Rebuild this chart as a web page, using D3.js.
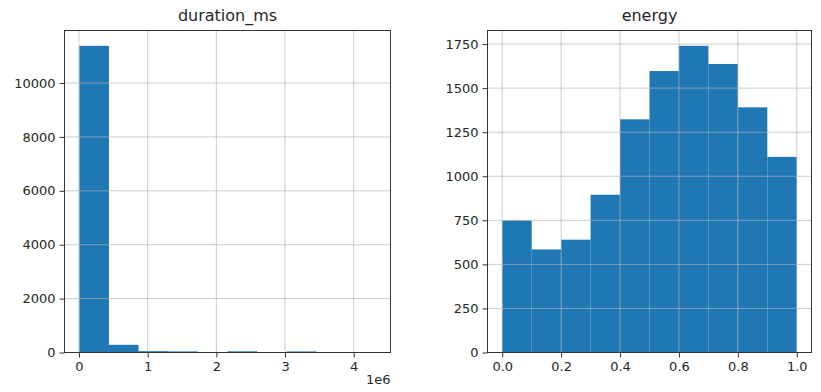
<!DOCTYPE html>
<html><head><meta charset="utf-8">
<script src="https://cdn.jsdelivr.net/npm/d3@7"></script>
<style>body{margin:0;background:#fff}svg{display:block}text{font-family:"DejaVu Sans",sans-serif;fill:#262626}</style>
</head><body>
<script>
// duration_ms histogram (10 bins, x in ms)
const durationEdges = [4937, 436430, 867923, 1299416, 1730909, 2162402, 2593895, 3025388, 3456881, 3888374, 4319867];
const durationCounts = [11380, 285, 50, 40, 2, 45, 3, 40, 0, 2];
const durationXTicks = [0, 1e6, 2e6, 3e6, 4e6];
const durationXTickLabels = ["0", "1", "2", "3", "4"];
const durationYTicks = [0, 2000, 4000, 6000, 8000, 10000];

// energy histogram
const energyEdges = [0.0, 0.1, 0.2, 0.3, 0.4, 0.5, 0.6, 0.7, 0.8, 0.9, 1.0];
const energyCounts = [749, 585, 640, 895, 1323, 1597, 1740, 1637, 1391, 1110];
const energyXTicks = [0, 0.2, 0.4, 0.6, 0.8, 1.0];
const energyXTickLabels = ["0.0", "0.2", "0.4", "0.6", "0.8", "1.0"];
const energyYTicks = [0, 250, 500, 750, 1000, 1250, 1500, 1750];

const W = 821, H = 392;
const svg = d3.select("body").append("svg").attr("width", W).attr("height", H);

function panel(cfg) {
  const {left, right, top, bottom, edges, counts, xTicks, xLabels, yTicks, title, offsetText} = cfg;
  const g = svg.append("g");
  const xmin = edges[0], xmax = edges[edges.length - 1], r = xmax - xmin;
  const x = d3.scaleLinear().domain([xmin - 0.05 * r, xmax + 0.05 * r]).range([left, right]);
  const ymax = d3.max(counts);
  const y = d3.scaleLinear().domain([0, ymax * 1.05]).range([bottom, top]);
  const bins = counts.map((c, i) => ({x0: edges[i], x1: edges[i + 1], c}));
  g.selectAll("rect.bar").data(bins).enter().append("rect")
    .attr("x", d => x(d.x0)).attr("width", d => x(d.x1) - x(d.x0))
    .attr("y", d => y(d.c)).attr("height", d => y(0) - y(d.c))
    .attr("fill", "#1f77b4");
  // grid
  const grid = g.append("g").attr("stroke", "#b0b0b0").attr("stroke-opacity", 0.65).attr("stroke-width", 1);
  xTicks.forEach(t => grid.append("line").attr("x1", x(t)).attr("x2", x(t)).attr("y1", top).attr("y2", bottom));
  yTicks.forEach(t => grid.append("line").attr("x1", left).attr("x2", right).attr("y1", y(t)).attr("y2", y(t)));
  // axes
  const xa = d3.axisBottom(x).tickValues(xTicks).tickFormat((d, i) => xLabels[i]).tickSize(5).tickPadding(4);
  const ya = d3.axisLeft(y).tickValues(yTicks).tickFormat(d3.format("d")).tickSize(5).tickPadding(4);
  const gx = g.append("g").attr("transform", `translate(0,${bottom})`).call(xa);
  const gy = g.append("g").attr("transform", `translate(${left},0)`).call(ya);
  [gx, gy].forEach(a => {
    a.select(".domain").remove();
    a.selectAll("line").attr("stroke", "#333");
    a.selectAll("text").attr("font-size", 13).attr("font-family", "DejaVu Sans").attr("fill", "#262626");
  });
  g.append("rect").attr("x", left).attr("y", top).attr("width", right - left).attr("height", bottom - top)
    .attr("fill", "none").attr("stroke", "#333").attr("stroke-width", 1);
  g.append("text").attr("x", (left + right) / 2).attr("y", top - 10).attr("text-anchor", "middle")
    .attr("font-size", 16).text(title);
  if (offsetText) g.append("text").attr("x", right).attr("y", bottom + 31).attr("text-anchor", "end")
    .attr("font-size", 13).text(offsetText);
}

panel({left: 64.5, right: 390.5, top: 30.5, bottom: 352.5, edges: durationEdges, counts: durationCounts,
  xTicks: durationXTicks, xLabels: durationXTickLabels, yTicks: durationYTicks, title: "duration_ms", offsetText: "1e6"});
panel({left: 487.5, right: 811.5, top: 30.5, bottom: 352.5, edges: energyEdges, counts: energyCounts,
  xTicks: energyXTicks, xLabels: energyXTickLabels, yTicks: energyYTicks, title: "energy"});
</script>
</body></html>
